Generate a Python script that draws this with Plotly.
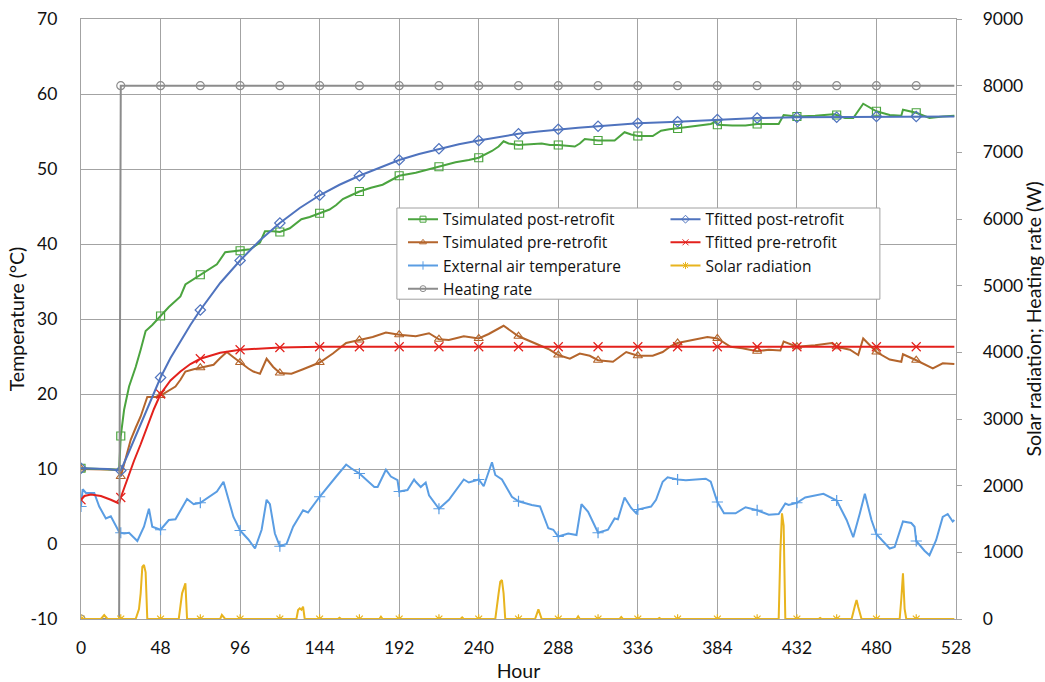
import plotly.graph_objects as go

# ---------------- data ----------------
# Tsimulated post-retrofit (degC)
tsp_h = [0, 12, 23, 24, 26, 29, 33, 36, 39, 43, 48, 53, 57, 60, 63, 68, 72, 77, 82, 87, 92, 96,
         102, 108, 111, 116, 120, 126, 133, 138, 144, 150, 154, 158, 163, 168, 175, 182, 187, 192,
         202, 210, 216, 226, 234, 240, 248, 252, 255, 258, 264, 270, 278, 283, 288, 298, 301, 304,
         308, 312, 322, 325, 328, 332, 336, 345, 350, 355, 360, 366, 373, 380, 383, 384, 393, 401,
         408, 421, 424, 432, 443, 450, 454, 456, 461, 466, 472, 480, 488, 495, 496, 504, 512, 520, 527]
tsp_v = [10.1, 10.0, 9.9, 14.4, 17.9, 21.0, 23.6, 25.9, 28.4, 29.2, 30.4, 31.6, 32.4, 33.0, 34.6, 35.3,
         35.9, 36.5, 37.3, 38.9, 39.0, 39.1, 39.3, 40.2, 41.7, 41.7, 41.6, 42.1, 43.3, 43.6, 44.1, 44.6,
         45.2, 46.0, 46.5, 47.0, 47.5, 47.9, 48.5, 49.1, 49.5, 50.0, 50.3, 50.9, 51.2, 51.5, 52.4, 53.0,
         53.7, 53.4, 53.2, 53.3, 53.4, 53.2, 53.2, 53.0, 53.4, 54.0, 53.9, 53.8, 53.8, 54.3, 54.9, 54.6,
         54.4, 54.4, 55.1, 55.3, 55.4, 55.6, 55.8, 56.0, 56.3, 55.9, 55.8, 55.8, 56.0, 56.0, 57.2, 57.0,
         57.1, 57.2, 57.3, 57.2, 56.8, 56.8, 58.7, 57.7, 57.2, 57.1, 57.9, 57.5, 56.8, 57.0, 57.1]

# Tfitted post-retrofit (degC)
tfp_h = [0, 8, 16, 20, 23, 24, 28, 32, 36, 40, 44, 48, 54, 60, 66, 72, 84, 96, 108, 120, 132, 144,
         156, 168, 180, 192, 204, 216, 228, 240, 252, 264, 276, 288, 300, 312, 324, 336, 360, 384,
         408, 432, 456, 480, 504, 527]
tfp_v = [10.1, 10.1, 10.0, 9.9, 9.8, 9.8, 11.8, 13.9, 16.0, 18.0, 20.1, 22.2, 24.8, 27.0, 29.2, 31.2,
         34.8, 37.8, 40.5, 42.8, 44.8, 46.5, 47.9, 49.1, 50.2, 51.2, 52.0, 52.7, 53.3, 53.8, 54.3, 54.7,
         55.0, 55.3, 55.5, 55.7, 55.9, 56.1, 56.3, 56.6, 56.8, 56.9, 56.9, 57.0, 57.0, 57.0]

# Tsimulated pre-retrofit (degC)
tsr_h = [0, 12, 23, 24, 27, 30, 33, 36, 40, 45, 48, 53, 57, 60, 63, 68, 72, 76, 80, 84, 88, 92, 96,
         101, 104, 108, 112, 116, 120, 127, 134, 140, 144, 152, 160, 168, 176, 184, 192, 202, 210, 216,
         222, 231, 240, 246, 255, 264, 274, 282, 288, 295, 301, 307, 312, 321, 329, 336, 345, 351, 356,
         360, 369, 378, 384, 392, 399, 408, 415, 422, 424, 432, 443, 453, 456, 464, 469, 472, 480, 488,
         495, 496, 504, 514, 520, 527]
tsr_v = [10.0, 9.95, 9.9, 9.0, 11.6, 13.9, 15.5, 17.0, 19.6, 19.6, 19.8, 20.5, 21.0, 21.9, 23.0, 23.3,
         23.5, 23.7, 23.9, 24.8, 25.6, 24.9, 24.2, 23.4, 23.0, 22.7, 24.7, 23.6, 22.8, 22.7, 23.3, 23.8,
         24.2, 25.4, 26.8, 27.2, 27.6, 28.2, 27.9, 27.7, 28.1, 27.3, 27.2, 27.7, 27.4, 28.0, 29.1, 27.7,
         26.8, 26.0, 25.2, 24.7, 25.4, 25.1, 24.5, 24.3, 25.6, 25.1, 25.1, 25.6, 26.4, 26.8, 27.2, 27.6,
         27.4, 26.3, 26.1, 25.7, 25.9, 25.8, 27.0, 26.3, 26.5, 26.8, 26.3, 25.9, 25.2, 27.4, 25.6, 24.6,
         24.3, 25.3, 24.5, 23.4, 24.1, 24.0]

# Tfitted pre-retrofit (degC)
tfr_h = [0, 2, 6, 12, 18, 23, 24, 28, 32, 36, 40, 44, 48, 54, 60, 66, 72, 84, 96, 108, 120, 144, 168,
         192, 216, 240, 264, 288, 312, 336, 360, 384, 408, 432, 456, 480, 504, 527]
tfr_v = [5.9, 6.4, 6.6, 6.4, 5.9, 5.4, 6.2, 8.8, 11.1, 13.3, 15.7, 18.0, 20.0, 21.8, 23.0, 24.0, 24.7,
         25.5, 25.9, 26.1, 26.2, 26.3, 26.3, 26.3, 26.3, 26.3, 26.3, 26.3, 26.3, 26.3, 26.3, 26.3, 26.3,
         26.3, 26.3, 26.3, 26.3, 26.3]

# External air temperature (degC)
ext_h = [0, 1, 3, 8, 11, 15, 18, 23, 24, 26, 29, 34, 38, 41, 43, 48, 53, 57, 64, 68, 72, 76, 82, 86, 92,
         96, 101, 105, 109, 112, 114, 117, 120, 124, 128, 134, 137, 144, 149, 154, 160, 163, 168, 177,
         179, 184, 187, 191, 192, 197, 201, 202, 205, 208, 210, 216, 222, 231, 234, 240, 243, 248, 250,
         254, 260, 264, 272, 277, 282, 285, 288, 294, 299, 302, 306, 310, 312, 318, 322, 324, 328, 332,
         335, 336, 344, 347, 351, 354, 360, 365, 377, 380, 384, 388, 395, 401, 408, 415, 421, 425, 427,
         432, 437, 448, 456, 462, 466, 470, 473, 477, 480, 488, 491, 496, 501, 503, 504, 509, 512, 516,
         520, 523, 526, 527]
ext_v = [5.0, 7.3, 6.8, 6.8, 5.0, 3.4, 3.7, 1.6, 1.5, 1.4, 1.5, 0.4, 2.3, 4.7, 2.3, 1.9, 3.2, 3.3, 6.0,
         5.3, 5.5, 6.1, 7.0, 8.3, 3.6, 1.8, 0.6, -0.6, 1.9, 5.9, 5.3, 1.4, -0.3, 0.0, 2.3, 4.5, 4.2, 6.3,
         7.7, 9.0, 10.6, 10.1, 9.4, 7.6, 7.6, 9.9, 9.0, 8.5, 7.0, 7.2, 8.6, 8.3, 7.6, 8.2, 6.5, 4.7, 5.9,
         8.6, 8.2, 8.6, 7.7, 10.9, 9.2, 8.6, 6.3, 5.7, 5.2, 5.0, 2.1, 1.9, 1.0, 1.4, 1.2, 5.3, 4.3, 2.3,
         1.5, 1.9, 3.4, 3.3, 6.2, 4.8, 4.1, 4.6, 5.0, 5.9, 8.3, 8.9, 8.6, 8.5, 8.7, 8.3, 5.6, 4.1, 4.1,
         4.9, 4.5, 3.9, 4.0, 5.4, 5.2, 5.5, 6.2, 6.7, 5.8, 3.2, 0.9, 4.1, 6.7, 3.2, 1.3, -0.6, -0.4, 3.0,
         2.8, 2.3, 0.4, -0.9, -1.5, 0.5, 3.6, 4.0, 3.0, 3.2]

# Solar radiation (W)
sol_h = [0, 12, 14, 16, 24, 33, 35, 36, 37, 38, 39, 40, 48, 59, 61, 62, 63, 64, 72, 84, 85, 87, 96,
         120, 130, 131, 132, 133, 134, 135, 144, 155, 156, 157, 168, 180, 181, 182, 192, 216, 229, 230,
         231, 240, 250, 252, 253, 254, 255, 256, 264, 274, 276, 278, 288, 299, 300, 301, 312, 325, 326,
         327, 336, 348, 349, 350, 360, 384, 408, 421, 422, 423, 424, 425, 432, 445, 446, 447, 456, 465,
         467, 468, 469, 471, 480, 494, 495, 496, 497, 498, 504, 527]
sol_w = [0, 0, 60, 0, 0, 0, 150, 385, 780, 810, 700, 0, 0, 0, 385, 480, 535, 0, 0, 0, 60, 0, 0,
         0, 0, 135, 160, 140, 185, 0, 0, 0, 20, 0, 0, 0, 35, 0, 0, 0, 0, 25,
         0, 0, 0, 385, 560, 585, 385, 0, 0, 0, 145, 0, 0, 0, 40, 0, 0, 0, 30,
         0, 0, 0, 15, 0, 0, 0, 0, 0, 1000, 1585, 1400, 0, 0, 0, 15, 0, 0, 0,
         200, 285, 180, 0, 0, 0, 300, 685, 150, 0, 0, 0]

# Heating rate (W)
heat_h = [0, 23, 24, 48, 72, 96, 120, 144, 168, 192, 216, 240, 264, 288, 312, 336, 360, 384, 408,
          432, 456, 480, 504, 527]
heat_w = [0, 0, 8000, 8000, 8000, 8000, 8000, 8000, 8000, 8000, 8000, 8000, 8000, 8000, 8000, 8000,
          8000, 8000, 8000, 8000, 8000, 8000, 8000, 8000]

x_ticks = [0, 48, 96, 144, 192, 240, 288, 336, 384, 432, 480, 528]
y_ticks = [-10, 0, 10, 20, 30, 40, 50, 60, 70]
y_text = ["-10", "0", "10", "20", "30", "40", "50", "60", "70"]
y2_ticks = [0, 1000, 2000, 3000, 4000, 5000, 6000, 7000, 8000, 9000]

# ---------------- figure ----------------
FONT = "Lato, 'Open Sans', sans-serif"
LEG_FONT = "'Open Sans', Lato, sans-serif"
GRID = "#a3a3a3"
fig = go.Figure()


def add_series(name, hours, vals, color, symbol, yaxis, legend, msize=8):
    fig.add_trace(go.Scatter(x=hours, y=vals, mode="lines", line=dict(color=color, width=2),
                             yaxis=yaxis, showlegend=False, hoverinfo="skip"))
    mh = [h for h in hours if h % 24 == 0 and h <= 504]
    mv = [v for h, v in zip(hours, vals) if h % 24 == 0 and h <= 504]
    mk = dict(symbol=symbol, size=msize, color=color, line=dict(color=color, width=1.2))
    fig.add_trace(go.Scatter(x=mh, y=mv, mode="markers", marker=mk, yaxis=yaxis,
                             showlegend=False, hoverinfo="skip"))
    fig.add_trace(go.Scatter(x=[None], y=[None], mode="lines+markers", name=name,
                             line=dict(color=color, width=2),
                             marker=dict(symbol=symbol, size=6, color=color,
                                         line=dict(color=color, width=1)),
                             yaxis=yaxis, legend=legend))


add_series("Heating rate", heat_h, heat_w, "#8c8c8c", "circle-open", "y2", "legend")
add_series("Solar radiation", sol_h, sol_w, "#e8b41e", "asterisk-open", "y2", "legend2")
add_series("External air temperature", ext_h, ext_v, "#5a9de3", "cross-thin-open", "y", "legend")
add_series("Tsimulated pre-retrofit", tsr_h, tsr_v, "#b4652c", "triangle-up-open", "y", "legend")
add_series("Tsimulated post-retrofit", tsp_h, tsp_v, "#4ba43f", "square-open", "y", "legend")
add_series("Tfitted pre-retrofit", tfr_h, tfr_v, "#e3211c", "x-thin-open", "y", "legend2", msize=9)
add_series("Tfitted post-retrofit", tfp_h, tfp_v, "#4f73be", "diamond-open", "y", "legend2")

leg_common = dict(yanchor="top", xanchor="left", bgcolor="rgba(0,0,0,0)", borderwidth=0,
                  font=dict(family=LEG_FONT, size=15.5, color="#111111"), tracegroupgap=0,
                  traceorder="reversed", itemwidth=30)

fig.update_layout(
    width=1045, height=682,
    margin=dict(l=81, r=89, t=19, b=63, autoexpand=False),
    paper_bgcolor="white", plot_bgcolor="white",
    font=dict(family=FONT, size=17, color="#111111"),
    showlegend=True,
    xaxis=dict(range=[0, 528], tickvals=x_ticks, showgrid=True, gridcolor=GRID, gridwidth=1.3,
               zeroline=False, showline=True, mirror=True, linecolor=GRID, linewidth=1.3,
               ticks="", ticklabelstandoff=13, automargin=False,
               tickfont=dict(size=17.5),
               title=dict(text="Hour", standoff=9, font=dict(size=19.5))),
    yaxis=dict(range=[-10, 70], tickvals=y_ticks, ticktext=y_text, showgrid=True, gridcolor=GRID,
               gridwidth=1.3, zeroline=False, showline=True, mirror=True, linecolor=GRID,
               linewidth=1.3, ticks="", ticklabelstandoff=19, automargin=False,
               tickfont=dict(size=17.5),
               title=dict(text="Temperature (°C)", standoff=0, font=dict(size=19.5))),
    yaxis2=dict(range=[0, 9000], tickvals=y2_ticks, overlaying="y", side="right", showgrid=False,
                zeroline=False, showline=True, linecolor=GRID, linewidth=1.3, ticks="outside",
                ticklen=5, tickcolor=GRID, ticklabelstandoff=17, automargin=False,
                tickfont=dict(size=17.5),
                title=dict(text="Solar radiation; Heating rate (W)", standoff=6,
                           font=dict(size=19.5))),
    legend=dict(x=0.368, y=0.694, **leg_common),
    legend2=dict(x=0.668, y=0.694, **leg_common),
    shapes=[dict(type="rect", xref="paper", yref="paper", x0=0.361, x1=0.913, y0=0.533, y1=0.685,
                 fillcolor="white", line=dict(color="#a0a0a0", width=1), layer="above")],
)

fig.write_html("out.html", config={"displayModeBar": False},
               post_script="document.body.style.margin='0px';")
